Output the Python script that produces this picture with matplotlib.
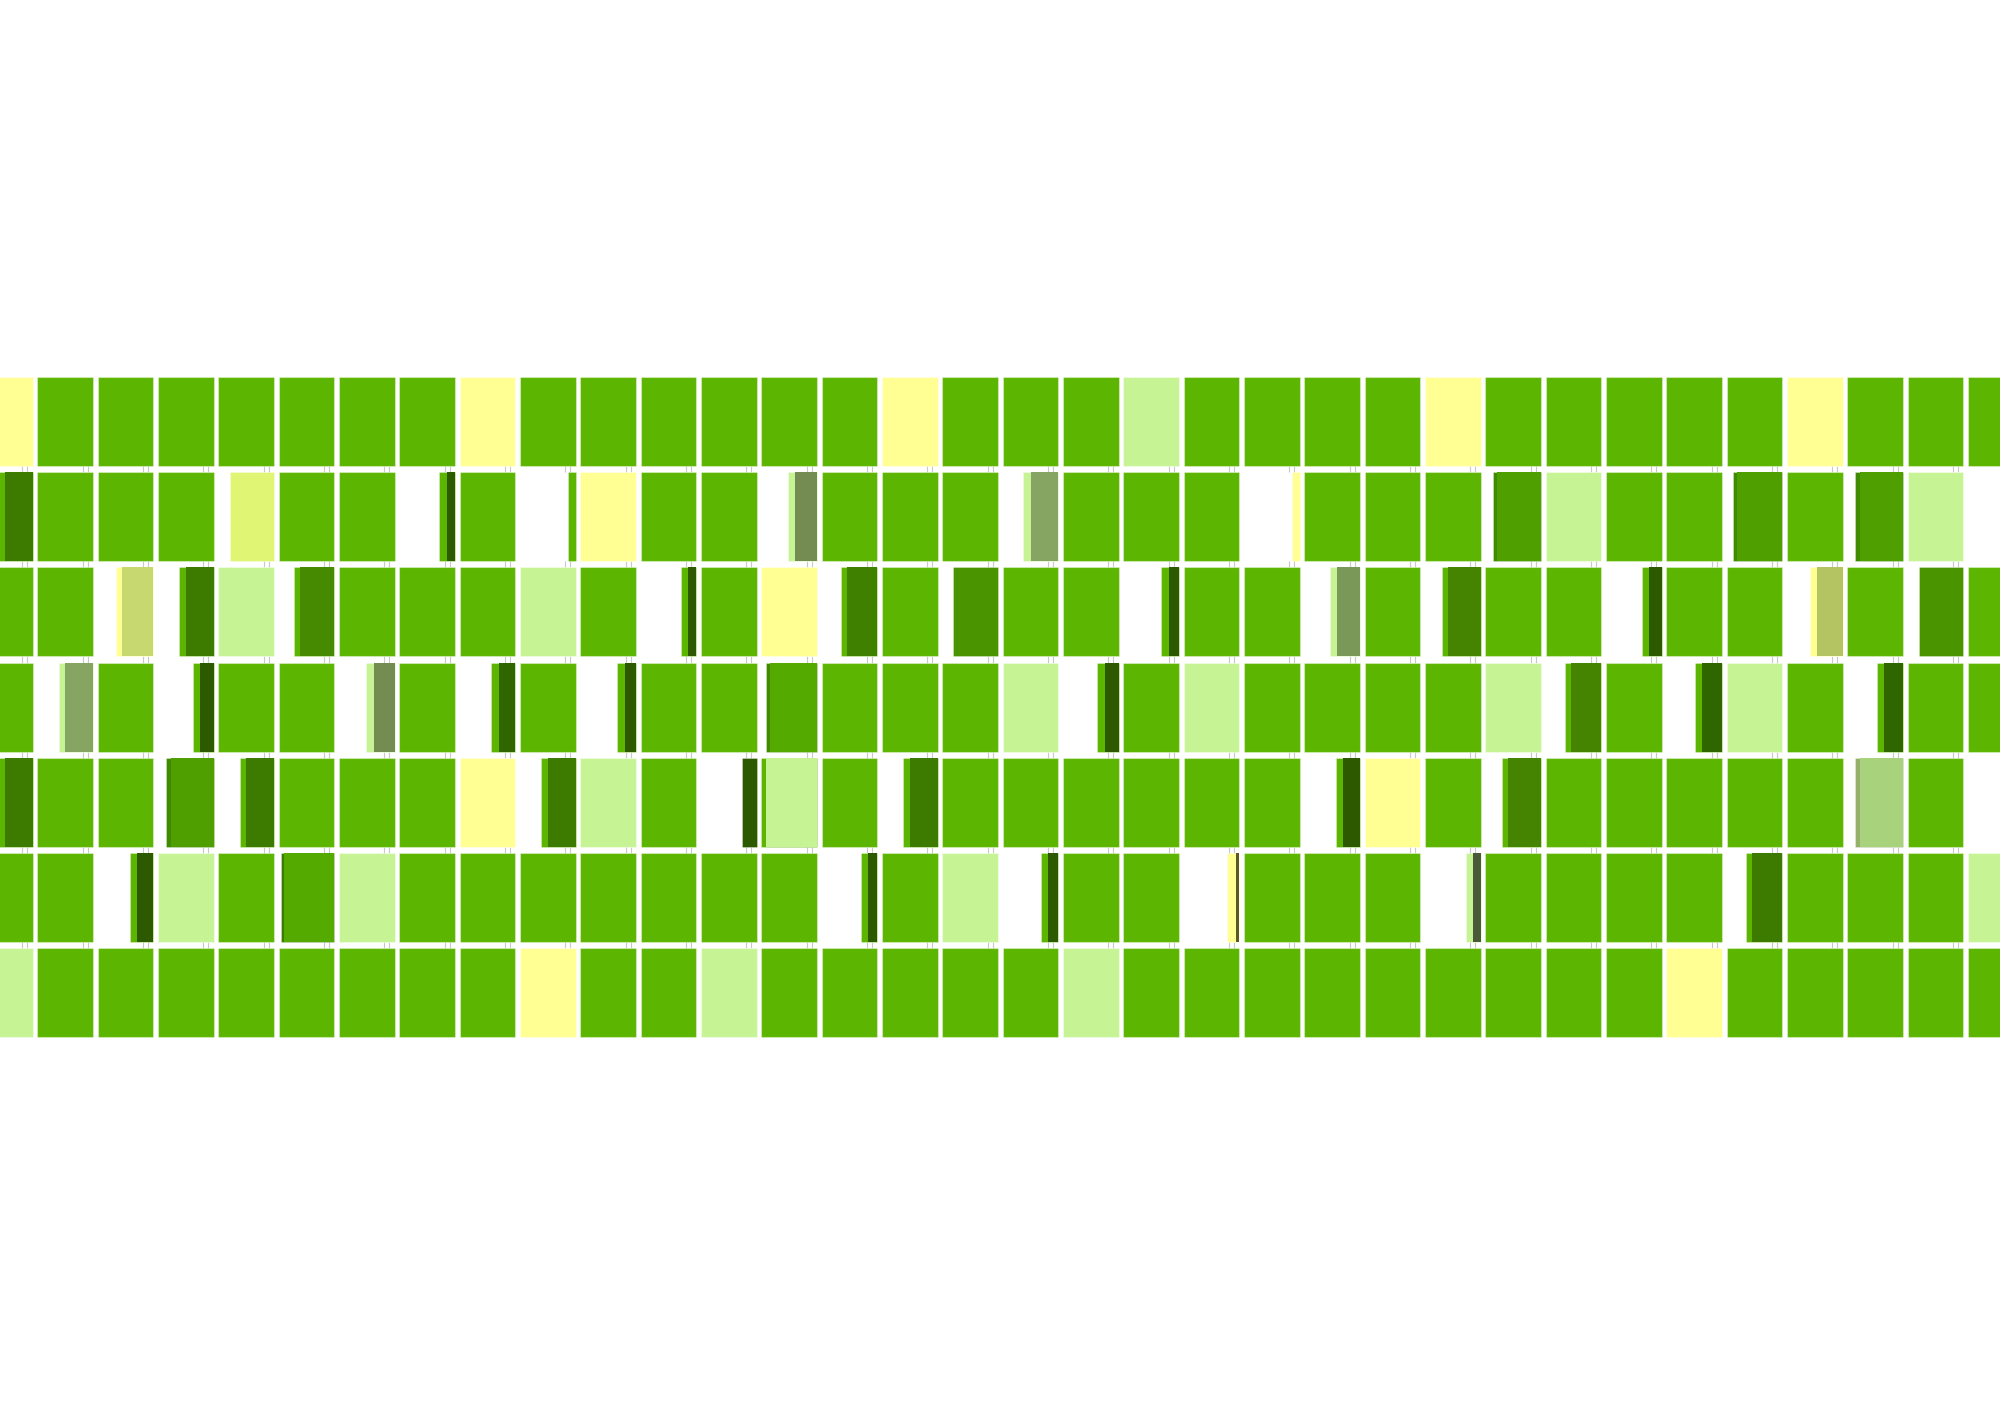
import numpy as np
import matplotlib
matplotlib.use('Agg')
import matplotlib.pyplot as plt

# base colour of every cell, one string per row, one char per column
# g = green, y = pale yellow, l = light green, . = drawn from the special list (or empty)
rows = [
    "ygggggggyggggggyggglggggygggggyggg",
    ".ggg.gg.g.ygg.ggg.ggg.ggg.lgg.g.l.",
    "gg..l.ggglg.gy.g.gg.gg.g.gg.gg.g.g",
    "g.g.gg.g.g.gg.gggl.glggggl.g.lg.gg",
    ".gg..gggy.lg..g.gggggg.yg.ggggg.g.",
    "gg.lg.lggggggg.gl.gg.ggg.gggg.gggl",
    "lggggggggygglggggglgggggggggyggggg",
]

palette = {"g": "#5cb500", "y": "#ffff94", "l": "#c6f495"}

G = "#5cb500"
Y = "#ffff94"
L = "#c6f495"
DK1 = "#3d7a00"
DK2 = "#2d5900"
DS = "#3f8a00"
MD = "#4f9f00"

# partial cells: row, column, outer width share, outer colour, inner width share, inner colour
sp_row = [1, 1, 1, 1, 1, 1, 1, 1, 1, 1,
          2, 2, 2, 2, 2, 2, 2, 2, 2, 2, 2, 2,
          3, 3, 3, 3, 3, 3, 3, 3, 3, 3,
          4, 4, 4, 4, 4, 4, 4, 4, 4, 4,
          5, 5, 5, 5, 5, 5, 5]
sp_col = [0, 4, 7, 9, 13, 17, 21, 25, 29, 31,
          2, 3, 5, 11, 14, 16, 19, 22, 24, 27, 30, 32,
          1, 3, 6, 8, 10, 13, 18, 26, 28, 31,
          0, 3, 4, 9, 12, 13, 15, 22, 25, 31,
          2, 5, 14, 17, 20, 24, 29]
sp_wout = [0.62, 0.79, 0.28, 0.13, 0.52, 0.63, 0.14, 0.87, 0.89, 0.86,
           0.67, 0.62, 0.72, 0.28, 0.66, 0.80, 0.33, 0.54, 0.70, 0.36, 0.59, 0.80,
           0.62, 0.37, 0.51, 0.43, 0.34, 0.92, 0.39, 0.66, 0.49, 0.46,
           0.62, 0.85, 0.62, 0.62, 0.26, 1.00, 0.62, 0.43, 0.70, 0.86,
           0.42, 0.95, 0.30, 0.31, 0.22, 0.26, 0.66]
sp_cout = [G, "#e0f573", G, G, L, L, Y, DS, DS, DS,
           Y, G, G, G, G, "#4a9400", G, L, G, G, Y, "#4a9400",
           L, G, L, G, G, DS, G, G, G, G,
           G, DS, G, G, DK2, G, G, G, G, "#94b06a",
           G, DK1, G, G, Y, L, G]
sp_win = [0.50, 0, 0.14, 0, 0.39, 0.50, 0, 0.79, 0.82, 0.77,
          0.56, 0.50, 0.62, 0.15, 0.55, 0, 0.18, 0.42, 0.59, 0.23, 0.47, 0,
          0.50, 0.24, 0.38, 0.29, 0.20, 0.84, 0.25, 0.54, 0.36, 0.34,
          0.50, 0.77, 0.50, 0.50, 0, 0.92, 0.50, 0.30, 0.59, 0.77,
          0.29, 0.90, 0.17, 0.18, 0.06, 0.13, 0.55]
sp_cin = [DK1, None, DK2, None, "#748c52", "#86a462", None, MD, MD, MD,
          "#c8d870", DK1, "#458a00", DK2, "#408000", None, DK2, "#7a9858", "#448400", DK2, "#b4c462", None,
          "#86a462", DK2, "#748c52", "#306600", DK2, "#55aa00", DK2, "#448400", "#306600", "#306600",
          DK1, MD, DK1, DK1, None, L, DK1, DK2, "#448400", "#a9d27c",
          DK2, "#55aa00", DK2, DK2, "#5a5a28", "#4a5a38", DK1]

cw = 0.923   # cell width in column units
ch = 0.934   # cell height in row units

fig = plt.figure(figsize=(20, 14.14), dpi=100)
ax = fig.add_axes([0, 0, 1, 1])
ax.set_xlim(0.381, 33.53)
ax.set_ylim(10.885, -3.953)
ax.axis('off')

ncol = len(rows[0])
edge = (1, 1, 1, 0.35)

# full cells
for r, line in enumerate(rows):
    for j, c in enumerate(line):
        if c in palette:
            ax.bar(j, ch, width=cw, bottom=r, align='edge', color=palette[c],
                   edgecolor=edge, linewidth=0.8, zorder=2)

# partial cells, right aligned inside the cell
for r, j, wo, co, wi, ci in zip(sp_row, sp_col, sp_wout, sp_cout, sp_win, sp_cin):
    ax.bar(j + cw * (1 - wo), ch, width=cw * wo, bottom=r, align='edge', color=co,
           edgecolor=edge, linewidth=0.6, zorder=2)
    if wi > 0:
        ax.bar(j + cw * (1 - wi), ch, width=cw * wi, bottom=r, align='edge', color=ci,
               linewidth=0, zorder=3)

# little grey marks in the gaps between rows
cols = np.arange(ncol)
for r in range(len(rows) - 1):
    for off in (0.749, 0.832):
        ax.vlines(cols + off, r + ch, r + 1, color='#c8c8c8', linewidth=0.8, zorder=1)

plt.savefig("out.png", dpi=100)
